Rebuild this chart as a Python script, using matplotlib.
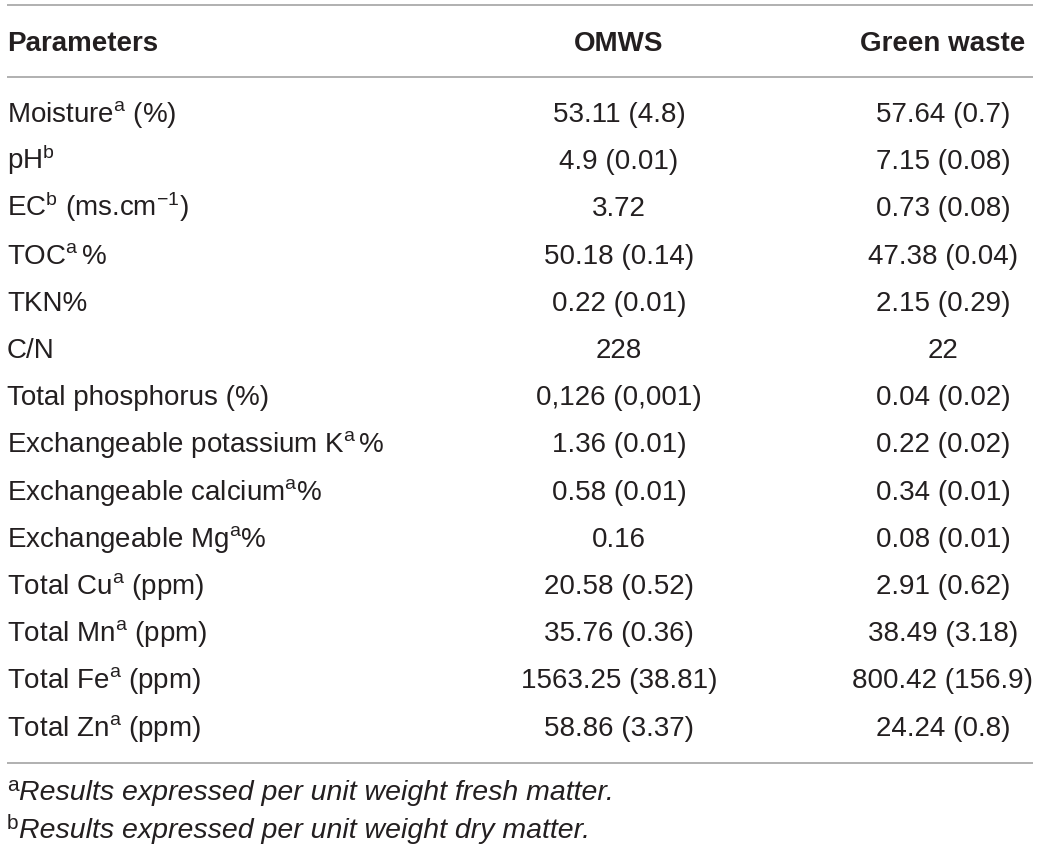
import matplotlib
matplotlib.use("Agg")
import matplotlib.pyplot as plt

plt.rcParams['font.family'] = ['Liberation Sans', 'DejaVu Sans']
plt.rcParams['mathtext.fontset'] = 'custom'
plt.rcParams['mathtext.rm'] = 'Liberation Sans'
plt.rcParams['mathtext.it'] = 'Liberation Sans:italic'
plt.rcParams['mathtext.bf'] = 'Liberation Sans:bold'

# ---- data ----
headers = ["Parameters", "OMWS", "Green waste"]
parameters = [
    r"Moisture$^{\rm a}$ (%)",
    r"pH$^{\rm b}$",
    r"EC$^{\rm b}$ (ms.cm$^{-1}$)",
    r"TOC$^{\rm a}\,$%",
    "TKN%",
    "C/N",
    "Total phosphorus (%)",
    r"Exchangeable potassium K$^{\rm a}\,$%",
    r"Exchangeable calcium$^{\rm a}$%",
    r"Exchangeable Mg$^{\rm a}$%",
    r"Total Cu$^{\rm a}$ (ppm)",
    r"Total Mn$^{\rm a}$ (ppm)",
    r"Total Fe$^{\rm a}$ (ppm)",
    r"Total Zn$^{\rm a}$ (ppm)",
]
omws = [
    "53.11 (4.8)", "4.9 (0.01)", "3.72", "50.18 (0.14)", "0.22 (0.01)",
    "228", "0,126 (0,001)", "1.36 (0.01)", "0.58 (0.01)", "0.16",
    "20.58 (0.52)", "35.76 (0.36)", "1563.25 (38.81)", "58.86 (3.37)",
]
green_waste = [
    "57.64 (0.7)", "7.15 (0.08)", "0.73 (0.08)", "47.38 (0.04)", "2.15 (0.29)",
    "22", "0.04 (0.02)", "0.22 (0.02)", "0.34 (0.01)", "0.08 (0.01)",
    "2.91 (0.62)", "38.49 (3.18)", "800.42 (156.9)", "24.24 (0.8)",
]
footnote_marks = ["a", "b"]
footnotes = [
    "Results expressed per unit weight fresh matter.",
    "Results expressed per unit weight dry matter.",
]

# ---- layout ----
W, H = 1040, 850
fig = plt.figure(figsize=(W / 100, H / 100), dpi=100)
ax = fig.add_axes([0, 0, 1, 1])
ax.set_xlim(0, W)
ax.set_ylim(H, 0)
ax.axis('off')

txt_color = '#231f20'
line_color = '#a3a3a3'
fs = 20

x_left, x_c1, x_c2 = 7, 619, 943
line_x0, line_x1 = 7, 1033

# rules
for y in (5, 77, 763):
    ax.hlines(y, line_x0, line_x1, colors=line_color, linewidth=1.2)

# header
hy = 51
ax.text(x_left, hy, headers[0], fontsize=fs, fontweight='bold', color=txt_color,
        ha='left', va='baseline')
ax.text(x_c1, hy, headers[1], fontsize=fs, fontweight='bold', color=txt_color,
        ha='center', va='baseline')
ax.text(x_c2, hy, headers[2], fontsize=fs, fontweight='bold', color=txt_color,
        ha='center', va='baseline')

# rows
y0, dy = 122, 47.2
for i, (p, a, b) in enumerate(zip(parameters, omws, green_waste)):
    y = y0 + i * dy
    ax.text(x_left, y, p, fontsize=fs, color=txt_color, ha='left', va='baseline')
    ax.text(x_c1, y, a, fontsize=fs, color=txt_color, ha='center', va='baseline')
    ax.text(x_c2, y, b, fontsize=fs, color=txt_color, ha='center', va='baseline')

# footnotes
for j, (m, fn) in enumerate(zip(footnote_marks, footnotes)):
    yb = 800 + j * 38
    ax.text(x_left, yb - 9, m, fontsize=15, color=txt_color, ha='left', va='baseline')
    ax.text(x_left + 12, yb, fn, fontsize=20.5, style='italic',
            color=txt_color, ha='left', va='baseline')

fig.savefig("out.png", dpi=100, facecolor='white')
